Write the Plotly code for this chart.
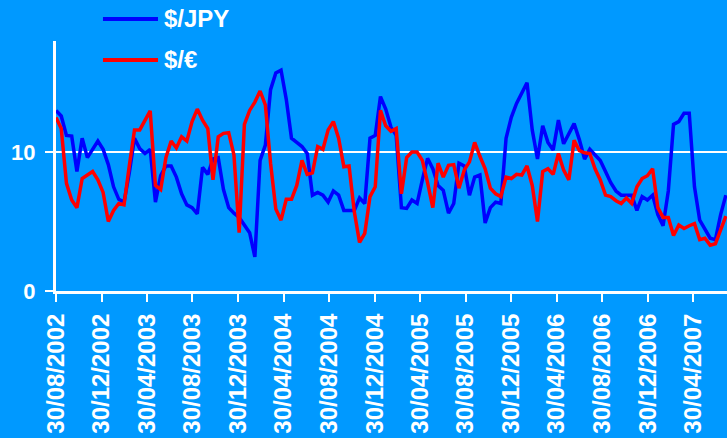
import pandas as pd
import plotly.graph_objects as go

# Fortnightly observation dates
dates = pd.date_range("2002-08-30", periods=129, freq="14D")

usd_jpy = [
    13.0, 12.6, 11.2, 11.15, 8.6, 11.0, 9.6, 10.2, 10.8, 10.2,
    9.1, 7.5, 6.6, 6.4, 8.5, 11.0, 10.25, 9.9, 10.2, 6.4,
    8.3, 9.0, 9.0, 8.2, 7.0, 6.2, 6.0, 5.55, 8.9, 8.4,
    9.5, 9.6, 7.3, 6.0, 5.6, 5.3, 4.8, 4.2, 2.45, 9.4,
    10.5, 14.5, 15.7, 15.9, 13.8, 11.0, 10.7, 10.4, 9.9, 6.9,
    7.1, 6.9, 6.4, 7.2, 6.9, 5.8, 5.8, 5.8, 6.7, 6.3,
    11.0, 11.2, 14.0, 13.1, 11.8, 11.2, 6.0, 5.95, 6.55, 6.3,
    8.0, 9.55, 8.8, 7.6, 7.25, 5.6, 6.3, 9.2, 9.0, 6.9,
    8.2, 8.35, 4.9, 6.0, 6.4, 6.3, 11.0, 12.5, 13.5, 14.3,
    15.0, 11.6, 9.5, 11.9, 10.7, 10.15, 12.3, 10.6, 11.3, 12.05,
    10.9, 9.5, 10.2, 9.8, 9.4, 8.6, 7.8, 7.2, 6.9, 6.9,
    6.9, 5.8, 6.8, 6.55, 6.9, 5.5, 4.7, 7.2, 12.0, 12.2,
    12.8, 12.8, 7.5, 5.1, 4.4, 3.8, 3.7, 5.5, 6.9,
]

usd_eur = [
    12.5, 11.7, 7.75, 6.55, 6.0, 8.1, 8.35, 8.6, 8.0, 7.1,
    5.0, 5.8, 6.3, 6.2, 9.0, 11.6, 11.6, 12.3, 12.97, 7.6,
    7.3, 9.6, 10.8, 10.3, 11.1, 10.8, 12.2, 13.1, 12.3, 11.7,
    8.0, 11.1, 11.35, 11.4, 9.8, 4.2, 12.0, 13.0, 13.6, 14.4,
    13.4, 9.2, 5.9, 5.1, 6.6, 6.6, 7.6, 9.4, 8.4, 8.5,
    10.4, 10.2, 11.6, 12.2, 11.0, 8.95, 9.0, 5.7, 3.5, 4.15,
    6.8, 7.5, 13.0, 11.9, 11.5, 11.7, 7.0, 9.6, 10.0, 10.0,
    9.4, 7.8, 6.0, 9.2, 8.2, 9.05, 9.1, 7.4, 8.7, 9.3,
    10.7, 9.7, 8.8, 7.4, 7.0, 6.8, 8.2, 8.1, 8.4, 8.35,
    9.0, 7.6, 5.0, 8.6, 8.8, 8.4, 9.9, 8.7, 8.0, 10.85,
    10.1, 9.95, 9.9, 8.8, 8.0, 6.9, 6.8, 6.5, 6.3, 6.7,
    6.3, 7.5, 8.1, 8.3, 8.8, 6.0, 5.3, 5.3, 4.0, 4.75,
    4.5, 4.7, 4.85, 3.7, 3.8, 3.3, 3.4, 4.4, 5.4,
]

series_names = ["$/JPY", "$/€"]
series_colors = ["#0000FF", "#FF0000"]

tick_dates = pd.date_range("2002-08-01", "2007-04-01", freq="4MS") + pd.Timedelta(days=29)
tick_text = [d.strftime("%d/%m/%Y") for d in tick_dates]
y_ticks = [0, 10]

BG = "#0099FF"
FAM = "Arial, Liberation Sans, sans-serif"
LEGEND_FONT = dict(family=FAM, size=24, color="white", weight="bold")
XTICK_FONT = dict(family=FAM, size=24, color="white", weight="bold")
YTICK_FONT = dict(family=FAM, size=22, color="white", weight="bold")

fig = go.Figure()
for name, vals, col in zip(series_names, [usd_jpy, usd_eur], series_colors):
    fig.add_trace(go.Scatter(x=dates, y=vals, mode="lines", name=name,
                             line=dict(color=col, width=3.5), showlegend=False))

# Manual legend (line sample + label)
legend_y = [1.088, 0.924]
for name, col, ly in zip(series_names, series_colors, legend_y):
    fig.add_shape(type="line", xref="paper", yref="paper", x0=0.070, x1=0.152,
                  y0=ly, y1=ly, line=dict(color=col, width=4))
    fig.add_annotation(xref="paper", yref="paper", x=0.158, y=ly, text=name,
                       showarrow=False, xanchor="left", yanchor="middle", font=LEGEND_FONT)

fig.update_layout(
    width=727, height=438,
    margin=dict(l=56, r=0, t=41, b=147),
    paper_bgcolor=BG, plot_bgcolor=BG,
    font=YTICK_FONT,
)
fig.update_xaxes(
    range=[pd.Timestamp("2002-08-30"), pd.Timestamp("2007-07-30")],
    tickvals=tick_dates, ticktext=tick_text, tickangle=-90,
    showline=True, linecolor="white", linewidth=3,
    ticks="outside", ticklen=8, tickwidth=2, tickcolor="white",
    showgrid=False, zeroline=False, ticklabelstandoff=2,
    tickfont=XTICK_FONT, automargin=False,
)
fig.update_yaxes(
    range=[0, 18], tickvals=y_ticks,
    showline=True, linecolor="white", linewidth=3,
    ticks="outside", ticklen=8, tickwidth=2, tickcolor="white",
    showgrid=True, gridcolor="white", gridwidth=2, zeroline=False,
    ticklabelstandoff=5, tickfont=YTICK_FONT, automargin=False,
)

fig.write_html(
    "out.html",
    config={"displayModeBar": False},
    post_script="document.body.style.margin='0';document.body.style.background='" + BG + "';",
)
